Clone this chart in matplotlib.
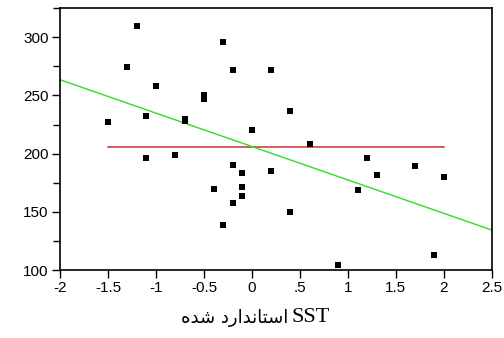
import numpy as np
import matplotlib
matplotlib.use("Agg")
import matplotlib.pyplot as plt
from matplotlib.ticker import MultipleLocator

# standardized SST vs value
sst_std = [-1.5, -1.2, -1.3, -1.0, -1.1, -0.7, -0.7, -0.5, -0.5, -0.3, -0.2, 0.0,
           0.2, 0.4, 0.6, -1.1, -0.8, -0.2, -0.1, -0.1, -0.1, -0.4, -0.2, -0.3,
           0.2, 1.2, 1.3, 1.1, 1.7, 2.0, 0.4, 0.9, 1.9]
values = [227, 310, 274, 258, 232, 230, 228, 250, 247, 296, 272, 220,
          272, 237, 208, 196, 199, 190, 183, 171, 164, 170, 158, 139,
          185, 196, 182, 169, 189, 180, 150, 104, 113]

mean_value = 205.6
mean_range = [-1.5, 2.0]
fit_intercept = 206.1
fit_slope = -28.7
fit_range = [-2.0, 2.5]

xticks = [-2, -1.5, -1, -0.5, 0, 0.5, 1, 1.5, 2, 2.5]
xticklabels = ["-2", "-1.5", "-1", "-0.5", "0", ".5", "1", "1.5", "2", "2.5"]
yticks = [100, 150, 200, 250, 300]

# x label: "SST" + Arabic part written in visual order (presentation forms)
label_latin = "SST"
label_arabic = "\uFEE9\uFEAA\uFEB7 \uFEA9\uFEAD\uFE8D\uFEAA\uFEE7\uFE8E\uFE98\uFEB3\uFE8D"

plt.rcParams['font.family'] = ['Liberation Sans', 'DejaVu Sans']

fig = plt.figure(figsize=(5.04, 3.38), dpi=100)
ax = fig.add_axes([0.119, 0.201, 0.857, 0.775])

ax.scatter(sst_std, values, marker='s', s=22, c='black', linewidths=0, zorder=3)

ax.plot(mean_range, [mean_value, mean_value], color='#c83232', lw=1.1, zorder=2)
fx = np.array(fit_range)
ax.plot(fx, fit_intercept + fit_slope * fx, color='#33dd22', lw=1.0, zorder=2)

ax.set_xlim(-2, 2.5)
ax.set_ylim(100, 325)
ax.set_xticks(xticks)
ax.set_xticklabels(xticklabels)
ax.set_yticks(yticks)
ax.yaxis.set_minor_locator(MultipleLocator(25))

for s in ax.spines.values():
    s.set_linewidth(1.2)
ax.tick_params(axis='both', which='major', direction='out', length=6, width=1,
               labelsize=11, pad=2, colors='black')
ax.tick_params(axis='y', which='minor', direction='out', length=5, width=1)

fig.text(0.578, 0.062, label_latin, family='Liberation Serif', fontsize=16,
         ha='left', va='center')
fig.text(0.572, 0.058, label_arabic, family='DejaVu Sans', fontsize=13,
         ha='right', va='center')

fig.savefig('out.png', dpi=100)
